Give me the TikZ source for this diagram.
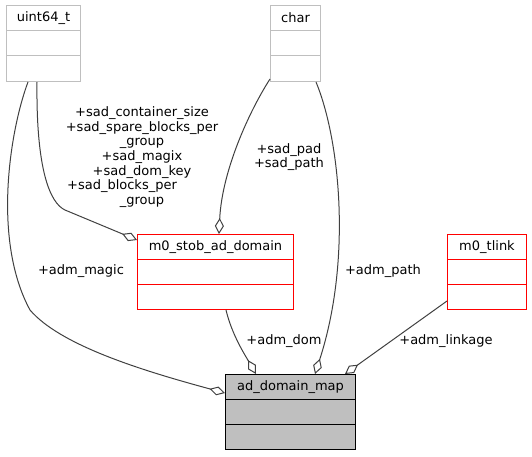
\documentclass[tikz,border=0pt]{standalone}
\usepackage{fontspec}
\setmainfont{DejaVu Sans}
\usetikzlibrary{arrows.meta,calc}
\definecolor{edgegray}{HTML}{404040}
\definecolor{boxgray}{HTML}{BFBFBF}
\begin{document}
\begin{tikzpicture}[x=1pt,y=-1pt,
  every node/.style={font=\fontsize{13}{14.7}\selectfont, inner sep=0pt},
  cls/.style={draw, line width=1pt, anchor=north west, minimum height=76pt},
  extcls/.style={cls, draw=boxgray},
  redcls/.style={cls, draw=red},
  maincls/.style={cls, draw=black, fill=boxgray},
  agg/.style={draw=edgegray, line width=1pt, -{Diamond[open, length=16pt, width=9pt, line width=1pt]}},
  lbl/.style={text=black, align=center}
]
\useasboundingbox (0,0) rectangle (532,456);

% classes
\node[extcls, minimum width=74pt] (u) at (6,5) {};
\node at ($(u.north)+(0,13)$) {uint64\_t};
\draw[boxgray, line width=1pt] ([yshift=-25.3pt]u.north west) -- ([yshift=-25.3pt]u.north east)
  ([yshift=-50.6pt]u.north west) -- ([yshift=-50.6pt]u.north east);

\node[extcls, minimum width=50pt] (c) at (270,5) {};
\node at ($(c.north)+(0,13)$) {char};
\draw[boxgray, line width=1pt] ([yshift=-25.3pt]c.north west) -- ([yshift=-25.3pt]c.north east)
  ([yshift=-50.6pt]c.north west) -- ([yshift=-50.6pt]c.north east);

\node[redcls, minimum width=156pt, minimum height=75pt] (m) at (137,234) {};
\node at ($(m.north)+(0,13)$) {m0\_stob\_ad\_domain};
\draw[red, line width=1pt] ([yshift=-25pt]m.north west) -- ([yshift=-25pt]m.north east)
  ([yshift=-50pt]m.north west) -- ([yshift=-50pt]m.north east);

\node[redcls, minimum width=79pt, minimum height=75pt] (t) at (447,234) {};
\node at ($(t.north)+(0,13)$) {m0\_tlink};
\draw[red, line width=1pt] ([yshift=-25pt]t.north west) -- ([yshift=-25pt]t.north east)
  ([yshift=-50pt]t.north west) -- ([yshift=-50pt]t.north east);

\node[maincls, minimum width=130pt, minimum height=75pt] (a) at (225,374) {};
\node at ($(a.north)+(0,13)$) {ad\_domain\_map};
\draw[black, line width=1pt] ([yshift=-25pt]a.north west) -- ([yshift=-25pt]a.north east)
  ([yshift=-50pt]a.north west) -- ([yshift=-50pt]a.north east);

% edges
\draw[agg] ([xshift=22pt]u.south west) .. controls (10,130) and (-8,240) .. (30,310)
  .. controls (60,345) and (140,370) .. ([yshift=-19pt]a.north west);
\draw[agg] ([xshift=31pt]u.south west) .. controls (36,170) and (50,203) .. (65,210)
  -- ([yshift=-6pt]m.north west);
\draw[agg] ([yshift=3pt]c.south west) .. controls (250,110) and (222,170) .. ([xshift=82pt]m.north west);
\draw[agg] ([xshift=46pt]c.south west) .. controls (340,140) and (352,260) .. ([xshift=90pt]a.north west);
\draw[agg] ([xshift=89pt]m.south west) .. controls (232,335) and (245,355) .. ([xshift=31pt]a.north west);
\draw[agg] ([yshift=9pt]t.south west) -- ([xshift=120pt]a.north west);

% labels
\node[lbl] (l1) at (142,157) {+sad\_container\_size\\+sad\_spare\_blocks\_per\\\_group\\+sad\_magix\\+sad\_dom\_key\\+sad\_blocks\_per\hspace*{40pt}\null\\\_group};
\node[lbl] (l2) at (289,157) {+sad\_pad\\+sad\_path};
\node[lbl] (l3) at (81,271) {+adm\_magic};
\node[lbl] (l4) at (284,341) {+adm\_dom};
\node[lbl] (l5) at (383,271) {+adm\_path};
\node[lbl] (l6) at (446,341) {+adm\_linkage};
\end{tikzpicture}
\end{document}
